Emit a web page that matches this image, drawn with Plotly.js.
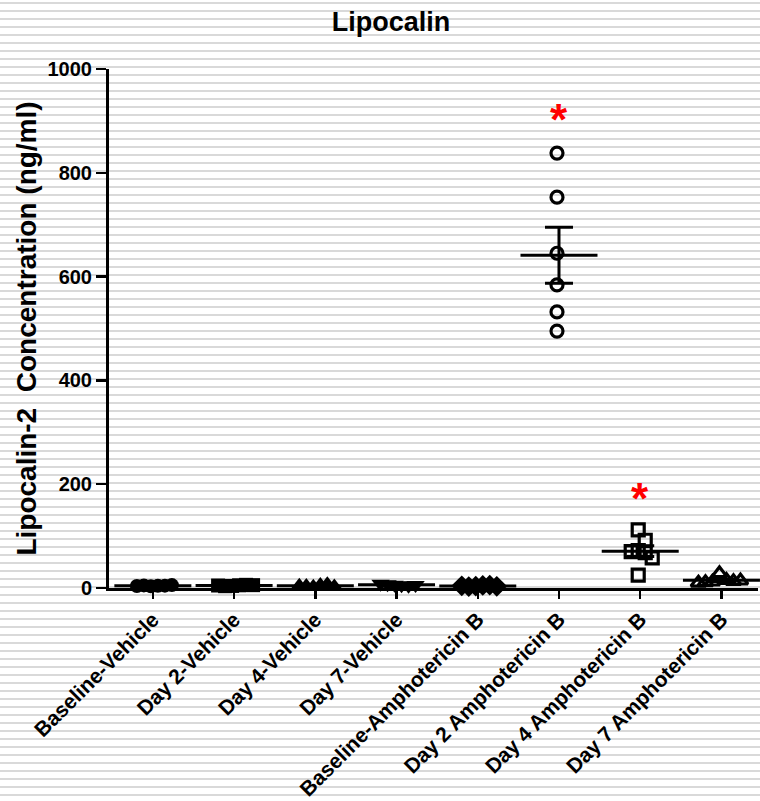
<!DOCTYPE html>
<html>
<head>
<meta charset="utf-8">
<script src="https://cdn.plot.ly/plotly-3.0.1.min.js"></script>
<style>
  html, body { margin: 0; padding: 0; }
  body {
    width: 760px; height: 801px; overflow: hidden;
    background: repeating-linear-gradient(to bottom,
      #ffffff 0px, #ffffff 2px, #d9d9d9 2px, #d9d9d9 4px, #ffffff 4px, #ffffff 8px);
  }
  #chart { width: 760px; height: 801px; }
</style>
</head>
<body>
<div id="chart"></div>
<script>
// ---- data ----
const categories = [
  "Baseline-Vehicle", "Day 2-Vehicle", "Day 4-Vehicle", "Day 7-Vehicle",
  "Baseline-Amphotericin B", "Day 2 Amphotericin B", "Day 4 Amphotericin B", "Day 7 Amphotericin B"
];
const baselineVehicle = [3.2, 4.1, 5.0, 4.5, 3.8, 5.6];
const day2Vehicle     = [4.0, 5.2, 3.5, 6.1, 4.8, 5.5];
const day4Vehicle     = [2.5, 5.8, 3.9, 7.2, 4.4, 3.1];
const day7Vehicle     = [6.5, 5.1, 7.4, 4.2, 8.0, 5.9];
const baselineAmphoB  = [3.6, 4.9, 2.8, 5.4, 4.2, 3.3];
const day2AmphoB      = [838, 753, 645, 584, 532, 495];
const day4AmphoB      = [112, 92, 72, 70, 68, 58, 25];
const day7AmphoB      = [28, 15, 12, 13, 11, 14, 10];
const yTickValues = [0, 200, 400, 600, 800, 1000];
const starCategories = [5, 6];
const starValues = [903, 172];

// ---- style ----
const groups = [baselineVehicle, day2Vehicle, day4Vehicle, day7Vehicle,
                baselineAmphoB, day2AmphoB, day4AmphoB, day7AmphoB];
const symbols = ["circle", "square", "triangle-up", "triangle-down",
                 "diamond", "circle-open", "square-open", "triangle-up-open"];
const sizes = [14, 14, 16, 16, 16, 12, 12, 13];

const W = 760, H = 801;
const M = { l: 109, r: 2, t: 69, b: 213 };
const xRange = [-0.54, 7.45];
const yRange = [0, 1000];
const plotW = W - M.l - M.r, plotH = H - M.t - M.b;
const pxPerX = plotW / (xRange[1] - xRange[0]);
const pxPerY = plotH / (yRange[1] - yRange[0]);

// simple beeswarm: spread overlapping points sideways
function swarm(vals) {
  const step = 7, dyLim = 12, dxLim = 6.5;
  const placed = [];
  return vals.map(v => {
    const yp = v * pxPerY;
    const cands = [0];
    for (let k = 1; k < 12; k++) { cands.push(k * step); cands.push(-k * step); }
    for (const dx of cands) {
      const ok = placed.every(p => Math.abs(p.y - yp) >= dyLim || Math.abs(p.x - dx) >= dxLim);
      if (ok) { placed.push({ x: dx, y: yp }); return dx / pxPerX; }
    }
    return 0;
  });
}

const traces = [];
groups.forEach((vals, i) => {
  const offs = swarm(vals);
  const open = symbols[i].endsWith("open");
  traces.push({
    type: "scatter", mode: "markers",
    x: vals.map((v, j) => i + offs[j] - 2 / pxPerX), y: vals,
    cliponaxis: false, hoverinfo: "y",
    marker: {
      symbol: symbols[i], size: sizes[i], color: "black",
      line: { color: "black", width: open ? 3.2 : 0 }
    }
  });
});

// mean + SEM
groups.forEach((vals, i) => {
  const n = vals.length;
  const mean = vals.reduce((a, b) => a + b, 0) / n;
  const sd = Math.sqrt(vals.reduce((a, b) => a + (b - mean) ** 2, 0) / (n - 1));
  const sem = sd / Math.sqrt(n);
  traces.push({
    type: "scatter", mode: "markers", x: [i], y: [mean],
    cliponaxis: false, hoverinfo: "y",
    marker: { symbol: "line-ew", size: 55, color: "black", line: { color: "black", width: 3 } },
    error_y: { type: "data", array: [sem], visible: true, color: "black", thickness: 3, width: 14 }
  });
});

const FONT = "Liberation Sans, Arial, sans-serif";
const layout = {
  width: W, height: H, margin: M,
  paper_bgcolor: "rgba(0,0,0,0)", plot_bgcolor: "rgba(0,0,0,0)",
  showlegend: false,
  title: {
    text: "Lipocalin", x: 391 / W, xref: "container", xanchor: "center",
    y: 1 - 22 / H, yref: "container", yanchor: "middle",
    font: { family: FONT, size: 27, color: "black", weight: "bold" }
  },
  xaxis: {
    range: xRange, tickmode: "array",
    tickvals: categories.map((c, i) => i), ticktext: categories,
    tickangle: -45, ticks: "outside", ticklen: 8, tickwidth: 2.5, tickcolor: "black",
    showline: true, linecolor: "black", linewidth: 3, showgrid: false, zeroline: false,
    tickfont: { family: FONT, size: 21, color: "black", weight: "bold" }
  },
  yaxis: {
    range: yRange, tickmode: "array", tickvals: yTickValues,
    ticks: "outside", ticklen: 10, tickwidth: 2.5, tickcolor: "black",
    showline: true, linecolor: "black", linewidth: 3, showgrid: false, zeroline: false,
    tickfont: { family: FONT, size: 20, color: "black", weight: "bold" },
    title: {
      text: "Lipocalin-2  Concentration (ng/ml)", standoff: 3,
      font: { family: FONT, size: 28, color: "black", weight: "bold" }
    }
  },
  annotations: starCategories.map((c, k) => ({
    x: c, y: starValues[k], xref: "x", yref: "y", text: "*", showarrow: false,
    font: { family: FONT, size: 44, color: "red", weight: "bold" },
    yanchor: "middle"
  }))
};

Plotly.newPlot("chart", traces, layout, { staticPlot: true, displayModeBar: false });
</script>
</body>
</html>
